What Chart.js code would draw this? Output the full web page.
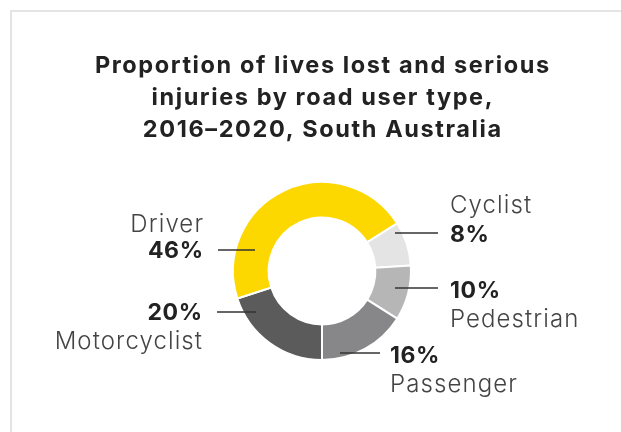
<!DOCTYPE html>
<html>
<head>
<meta charset="utf-8">
<script src="https://cdn.jsdelivr.net/npm/chart.js@4"></script>
<style>
  html, body { margin: 0; padding: 0; background: #fff; }
  #wrap { position: relative; width: 621px; height: 432px; overflow: hidden; }
  #card { position: absolute; left: 10px; top: 10px; width: 700px; height: 500px;
          border-left: 2px solid #e4e4e4; border-top: 2px solid #e4e4e4; }
  canvas { position: absolute; left: 0; top: 0; }
</style>
</head>
<body>
<div id="wrap">
  <div id="card"></div>
  <canvas id="donut" width="621" height="432"></canvas>
</div>
<script>
const titleLines = ["Proportion of lives lost and serious", "injuries by road user type,", "2016\u20132020, South Australia"];
const userTypes = ["Motorcyclist", "Driver", "Cyclist", "Pedestrian", "Passenger"];
const shares = [20, 46, 8, 10, 16];
const sliceColors = ["#5b5b5c", "#fdd800", "#e4e4e4", "#b6b6b6", "#87878a"];

// leader line + label placement, px offsets from the ring centre at r = 89
const labelLayout = [
  { side: "left",  lineY: 41,  x0: -105, x1: -66, textX: -120, pctY: 49,  nameY: 78 },
  { side: "left",  lineY: -21, x0: -104, x1: -67, textX: -119, pctY: -13, nameY: -39 },
  { side: "right", lineY: -38, x0: 73,   x1: 116, textX: 128,  pctY: -29, nameY: -58 },
  { side: "right", lineY: 17,  x0: 73,   x1: 116, textX: 128,  pctY: 27,  nameY: 56 },
  { side: "right", lineY: 82,  x0: 18,   x1: 58,  textX: 68,   pctY: 92,  nameY: 121 }
];

const FONT = "Inter, Lato, 'Open Sans', sans-serif";

// draws text with tracking, keeping the alignment edge where it should be
function spaced(ctx, text, x, y, spacing) {
  ctx.letterSpacing = spacing + "px";
  let dx = 0;
  if (ctx.textAlign === "right") dx = spacing;
  else if (ctx.textAlign === "center") dx = spacing / 2;
  ctx.fillText(text, x + dx, y);
  ctx.letterSpacing = "0px";
}

const calloutPlugin = {
  id: "callouts",
  afterDraw(chart) {
    const ctx = chart.ctx;
    const arcs = chart.getDatasetMeta(0).data;
    const cx = arcs[0].x, cy = arcs[0].y;
    const k = arcs[0].outerRadius / 89;

    ctx.save();
    // title
    ctx.fillStyle = "#222";
    ctx.textAlign = "center";
    ctx.textBaseline = "alphabetic";
    ctx.font = "700 23.5px " + FONT;
    titleLines.forEach((t, i) => spaced(ctx, t, cx, 72.5 + i * 32.3, 1.6));

    labelLayout.forEach((l, i) => {
      ctx.strokeStyle = "#333";
      ctx.lineWidth = 1.6;
      ctx.beginPath();
      ctx.moveTo(cx + l.x0 * k, cy + l.lineY * k);
      ctx.lineTo(cx + l.x1 * k, cy + l.lineY * k);
      ctx.stroke();

      ctx.textAlign = l.side === "left" ? "right" : "left";
      const tx = cx + l.textX * k;
      ctx.fillStyle = "#222";
      ctx.font = "700 23px " + FONT;
      spaced(ctx, shares[i] + "%", tx, cy + l.pctY * k, 0.6);
      ctx.fillStyle = "#444";
      ctx.font = "300 24px " + FONT;
      spaced(ctx, userTypes[i], tx, cy + l.nameY * k, 1.1);
    });
    ctx.restore();
  }
};

new Chart("donut", {
  type: "doughnut",
  data: {
    labels: userTypes,
    datasets: [{
      data: shares,
      backgroundColor: sliceColors,
      borderColor: "#fff",
      borderWidth: 2
    }]
  },
  options: {
    responsive: false,
    animation: false,
    rotation: 180,
    cutout: "60%",
    layout: { padding: { left: 232, right: 209, top: 181, bottom: 71 } },
    plugins: {
      legend: { display: false },
      tooltip: { enabled: false },
      title: { display: false }
    }
  },
  plugins: [calloutPlugin]
});
</script>
</body>
</html>
